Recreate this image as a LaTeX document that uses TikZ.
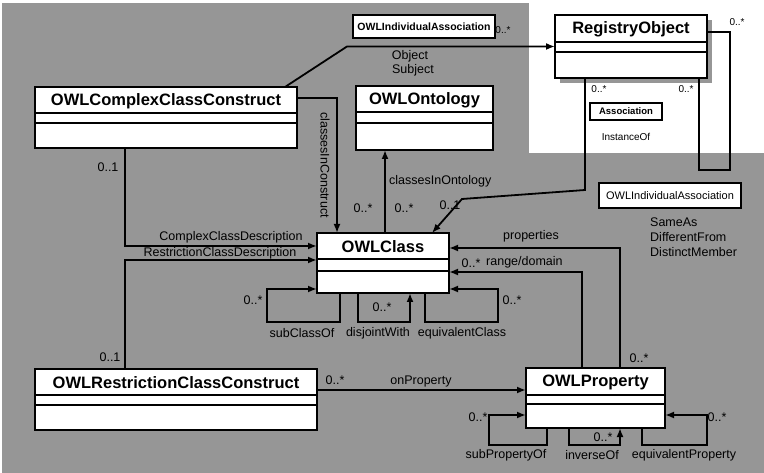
\documentclass[tikz,border=0pt]{standalone}
\usepackage{fontspec}
\setmainfont{Liberation Sans}
\usetikzlibrary{arrows.meta,calc}
\definecolor{bggray}{RGB}{150,150,150}
\tikzset{
 conn/.style={line width=1.8pt, line join=miter},
 arr/.style={conn, -{Latex[length=9pt,width=7pt]}},
 clsbox/.style={draw, fill=white, line width=1.5pt, inner sep=0pt, outer sep=0pt},
 cname/.style={font=\fontsize{16.5}{18}\selectfont\bfseries, inner sep=0pt},
 lbl/.style={font=\fontsize{12.5}{14}\selectfont, inner sep=0pt},
 slbl/.style={font=\fontsize{10}{12}\selectfont, inner sep=0pt},
 tagbox/.style={draw, fill=white, line width=1.5pt, inner sep=0pt, outer sep=0pt},
}
% #1 name, #2 x1, #3 y1, #4 x2, #5 y2, #6 line1, #7 line2, #8 text
\newcommand\umlcls[8]{%
 \node[clsbox, minimum width={(#4-#2)*1pt}, minimum height={(#5-#3)*1pt}] (#1) at ({(#2+#4)/2},{(#3+#5)/2}) {};
 \draw[line width=1.5pt] (#2,#6) -- (#4,#6);
 \draw[line width=1.5pt] (#2,#7) -- (#4,#7);
 \node[cname] (#1-t) at ({(#2+#4)/2},{(#3+#6)/2+1}) {#8};
}
\begin{document}
\begin{tikzpicture}[x=1pt,y=-1pt]
\useasboundingbox (0,0) rectangle (764,473);
\fill[bggray] (2,3) rectangle (764,473);
\fill[white] (529,0) rectangle (764,153);
% shadow of RegistryObject
\fill[bggray] (560,20) rectangle (712,83);
% classes
\umlcls{cc}{35}{87}{297}{148}{113}{123}{OWLComplexClassConstruct}
\umlcls{ont}{356}{86}{493}{150}{112}{123}{OWLOntology}
\umlcls{reg}{555}{15}{707}{78}{42}{52}{RegistryObject}
\umlcls{cls}{317}{233}{449}{293}{259}{271}{OWLClass}
\umlcls{rc}{35}{369}{317}{430}{395}{405}{OWLRestrictionClassConstruct}
\umlcls{prop}{526}{368}{665}{428}{395}{404}{OWLProperty}
% tag boxes
\node[tagbox, minimum width=142pt, minimum height=23pt, font=\fontsize{10.5}{12}\selectfont\bfseries] (ia1) at (424,26.5) {OWLIndividualAssociation};
\node[tagbox, minimum width=72pt, minimum height=17pt, font=\fontsize{9.5}{11}\selectfont\bfseries] (asc) at (626,111.5) {Association};
\node[tagbox, minimum width=142pt, minimum height=25pt, font=\fontsize{11}{13}\selectfont] (ia2) at (670,195.5) {OWLIndividualAssociation};
% connectors
\draw[arr] ($(cc.north east)+(-12,0)$) -- (347,46.5) -- (reg.west);
\draw[arr] ($(cc.north east)+(0,11)$) -| ($(cls.north west)+(20,0)$);
\draw[arr] ($(cls.north west)+(68,0)$) -- ($(ont.south west)+(29,0)$);
\draw[arr] ($(reg.south west)+(30,0)$) -- (585,190) -- (462,199) -- ($(cls.north east)+(-17,0)$);
\draw[conn] ($(reg.north east)+(0,17)$) -- (730,32) -- (730,170) -- (699,170) -- ($(reg.south east)+(-8,0)$);
\draw[arr] ($(cc.south west)+(90,0)$) |- ($(cls.north west)+(0,13)$);
\draw[arr] ($(rc.north west)+(90,0)$) |- ($(cls.north west)+(0,27)$);
\draw[arr] ($(rc.north east)+(0,21)$) -- ($(prop.north west)+(0,22)$);
\draw[arr] ($(prop.north west)+(94,0)$) |- ($(cls.north east)+(0,15)$);
\draw[arr] ($(prop.north west)+(56,0)$) |- ($(cls.north east)+(0,39)$);
% OWLClass self loops
\draw[arr] ($(cls.south west)+(23,0)$) -- ++(0,29) -- ++(-73,0) -- ++(0,-33) -- ($(cls.south west)+(0,-4)$);
\draw[arr] ($(cls.south west)+(41,0)$) -- ++(0,29) -- ++(52,0) -- ($(cls.south west)+(93,0)$);
\draw[arr] ($(cls.south west)+(108,0)$) -- ++(0,29) -- ++(73,0) -- ++(0,-33) -- ($(cls.south east)+(0,-4)$);
% OWLProperty self loops
\draw[arr] ($(prop.south west)+(21,0)$) -- ++(0,17) -- ++(-58,0) -- ++(0,-30) -- ($(prop.north west)+(0,47)$);
\draw[arr] ($(prop.south west)+(43,0)$) -- ++(0,17) -- ++(51,0) -- ($(prop.south west)+(94,0)$);
\draw[arr] ($(prop.south west)+(116,0)$) -- ++(0,17) -- ++(65,0) -- ++(0,-30) -- ($(prop.north east)+(0,47)$);
% labels
\node[slbl] (m1) at (503,30) {0..*};
\node[lbl] (l1) at (410,56) {Object};
\node[lbl] (l2) at (413,70) {Subject};
\node[lbl, rotate=-90] (l3) at (325,165) {classesInConstruct};
\node[lbl] (m2) at (363,208) {0..*};
\node[lbl, anchor=west] (l4) at (389,181) {classesInOntology};
\node[lbl] (m3) at (404,208) {0..*};
\node[lbl] (m4) at (450,205) {0..1};
\node[slbl] (m5) at (599,89) {0..*};
\node[slbl] (m6) at (686,89) {0..*};
\node[slbl] (m7) at (737,22) {0..*};
\node[slbl] (l5) at (626,137) {InstanceOf};
\node[lbl, anchor=west] (l6) at (650,222) {SameAs};
\node[lbl, anchor=west] (l7) at (650,237) {DifferentFrom};
\node[lbl, anchor=west] (l8) at (650,252) {DistinctMember};
\node[lbl] (l9) at (231,237) {ComplexClassDescription};
\node[lbl] (l10) at (220,253) {RestrictionClassDescription};
\node[lbl] (m8) at (108,167) {0..1};
\node[lbl] (m9) at (110,357) {0..1};
\node[lbl] (m10) at (335,380) {0..*};
\node[lbl] (l11) at (421,381) {onProperty};
\node[lbl] (l12) at (531,236) {properties};
\node[lbl] (m11) at (639,358) {0..*};
\node[lbl] (m12) at (471,263) {0..*};
\node[lbl, anchor=west] (l13) at (486,262) {range/domain};
\node[lbl] (m13) at (253,300) {0..*};
\node[lbl] (m14) at (382,307) {0..*};
\node[lbl] (m15) at (512,300) {0..*};
\node[lbl] (l14) at (302,333) {subClassOf};
\node[lbl] (l15) at (378,333) {disjointWith};
\node[lbl] (l16) at (462,333) {equivalentClass};
\node[lbl] (m16) at (478,417) {0..*};
\node[lbl] (m17) at (603,437) {0..*};
\node[lbl] (m18) at (717,417) {0..*};
\node[lbl] (l17) at (506,455) {subPropertyOf};
\node[lbl] (l18) at (592,455) {inverseOf};
\node[lbl] (l19) at (684,455) {equivalentProperty};
\end{tikzpicture}
\end{document}
